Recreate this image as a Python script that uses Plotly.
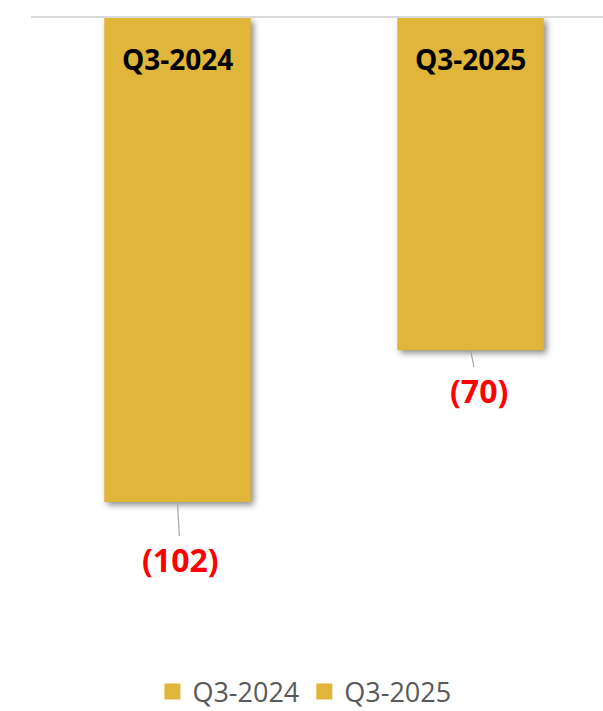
import plotly.graph_objects as go

# data
periods = ["Q3-2024", "Q3-2025"]
values = [-102, -70]
label_offsets_x = [3, 8]  # leader line lean for the value labels

bar_color = "#DFB53A"

fig = go.Figure()

# one trace per period so each gets its own legend entry
for period, val in zip(periods, values):
    fig.add_trace(
        go.Bar(
            x=[period],
            y=[val],
            name=period,
            marker=dict(color=bar_color, line=dict(width=0)),
            showlegend=False,
            hoverinfo="skip",
        )
    )
    # legend entry with a bigger square than the bar default
    fig.add_trace(
        go.Scatter(
            x=[None],
            y=[None],
            mode="markers",
            name=period,
            marker=dict(symbol="square", size=16, color=bar_color),
        )
    )

# period names inside the bars, value labels below them
for i, (period, val) in enumerate(zip(periods, values)):
    fig.add_annotation(
        x=period, y=0, text=f"<b>{period}</b>", showarrow=False,
        yanchor="middle", yshift=-41,
        font=dict(family="Open Sans", size=28, color="black"),
    )
    fig.add_annotation(
        x=period, y=val, text=f"<b>({abs(val)})</b>",
        showarrow=True, arrowhead=0, arrowwidth=1.2, arrowcolor="#A6A6A6",
        ax=label_offsets_x[i], ay=57 if i == 0 else 40,
        standoff=1,
        font=dict(family="Open Sans", size=32, color="#FF0000"),
    )

fig.update_layout(
    width=603,
    height=711,
    margin=dict(l=31, r=0, t=18, b=88, autoexpand=False),
    paper_bgcolor="white",
    plot_bgcolor="white",
    barmode="overlay",
    bargap=0.5,
    showlegend=True,
    legend=dict(
        orientation="h",
        x=0.478, xanchor="center",
        y=-0.114, yanchor="middle",
        font=dict(family="Open Sans", size=27, color="#595959"),
        itemclick=False,
    ),
    xaxis=dict(
        type="category",
        range=[-0.5, 1.452],
        side="top",
        showline=True, linecolor="#D9D9D9", linewidth=2,
        showticklabels=False, showgrid=False, zeroline=False, ticks="",
    ),
    yaxis=dict(
        range=[-127.5, 0],
        visible=False, showgrid=False, zeroline=False,
    ),
)

# no page margin, plus a soft drop shadow on the bars like the original
page_js = (
    "var s=document.createElement('style');"
    "s.innerHTML='body{margin:0;}"
    ".trace.bars .point path{filter:drop-shadow(3px 3px 3px rgba(0,0,0,0.45));}';"
    "document.head.appendChild(s);"
)

fig.write_html("out.html", post_script=page_js, config={"displayModeBar": False})
